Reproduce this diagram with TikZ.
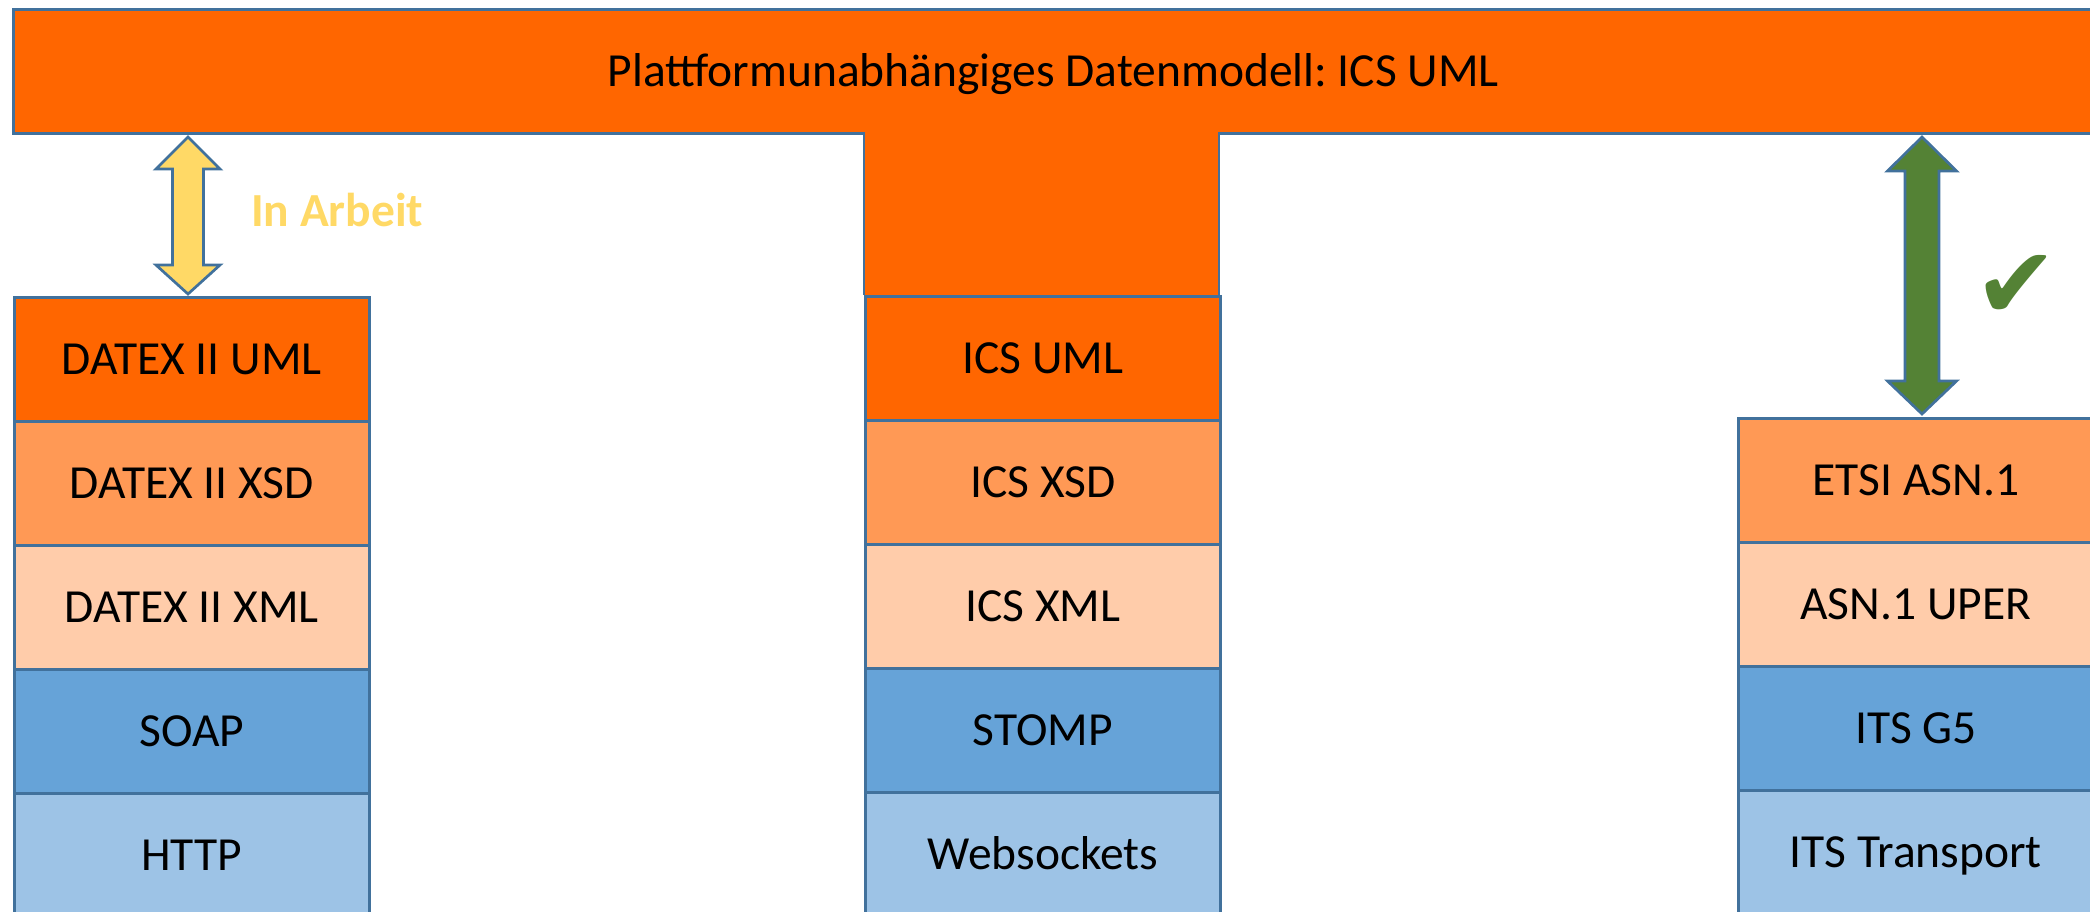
\documentclass[tikz,border=0pt]{standalone}
\usepackage{fontspec}
\setmainfont{Carlito}
\newfontfamily\symfont{DejaVu Sans}
\usetikzlibrary{calc}
\definecolor{outl}{HTML}{41719C}
\definecolor{orA}{HTML}{FF6600}
\definecolor{orB}{HTML}{FF9955}
\definecolor{orC}{HTML}{FFCCAA}
\definecolor{blA}{HTML}{66A3D8}
\definecolor{blB}{HTML}{9DC3E6}
\definecolor{gold}{HTML}{FFD966}
\definecolor{okgreen}{HTML}{548235}
\frenchspacing
\begin{document}
\begin{tikzpicture}[x=1pt,y=-1pt,
  layer/.style={draw=outl, line width=2.7pt, minimum width=355pt, minimum height=124pt,
    inner sep=0pt, anchor=north west, font=\fontsize{47.5}{50}\selectfont,
    text height=30pt, text depth=0pt},
  arrowshape/.style={draw=outl, line width=2.7pt, line join=miter}]
\useasboundingbox (0,0) rectangle (2090,912);
\clip (0,0) rectangle (2090,912);

% top bar
\node[layer, fill=orA, minimum width=2080pt] (top) at (12,8) {Plattformunabh\"angiges Datenmodell: ICS UML};

% middle stem
\fill[orA] (864,129) rectangle (1219,295);
\draw[outl, line width=2.7pt] (864,132) -- (864,295) (1219,132) -- (1219,295);

% left stack
\node[layer, fill=orA] (dU) at (13,296) {DATEX II UML};
\node[layer, fill=orB] (dX) at (13,420) {DATEX II XSD};
\node[layer, fill=orC] (dM) at (13,544) {DATEX II XML};
\node[layer, fill=blA] (dS) at (13,668) {SOAP};
\node[layer, fill=blB] (dH) at (13,792) {HTTP};

% middle stack
\node[layer, fill=orA] (iU) at (864,295) {ICS UML};
\node[layer, fill=orB] (iX) at (864,419) {ICS XSD};
\node[layer, fill=orC] (iM) at (864,543) {ICS XML};
\node[layer, fill=blA] (iS) at (864,667) {STOMP};
\node[layer, fill=blB] (iW) at (864,791) {Websockets};

% right stack
\node[layer, fill=orB] (eA) at (1737,417) {ETSI ASN.1};
\node[layer, fill=orC] (eU) at (1737,541) {ASN.1 UPER};
\node[layer, fill=blA] (eG) at (1737,665) {ITS G5};
\node[layer, fill=blB] (eT) at (1737,789) {ITS Transport};

% left double arrow (in progress)
\coordinate (lt) at (188,137);
\coordinate (lb) at (188,294);
\draw[arrowshape, fill=gold] (lt) -- ($(lt)+(32,32)$) -- ($(lt)+(15.5,32)$) -- ($(lb)+(15.5,-29)$)
  -- ($(lb)+(32,-29)$) -- (lb) -- ($(lb)+(-32,-29)$) -- ($(lb)+(-15.5,-29)$)
  -- ($(lt)+(-15.5,32)$) -- ($(lt)+(-32,32)$) -- cycle;
\node[anchor=base west, inner sep=0pt, text=gold, font=\fontsize{47.5}{50}\selectfont\bfseries] (ia) at (251,226) {In Arbeit};

% right double arrow (done)
\coordinate (rt) at (1922,137);
\coordinate (rb) at (1922,414);
\draw[arrowshape, fill=okgreen] (rt) -- ($(rt)+(34.5,34)$) -- ($(rt)+(17,34)$) -- ($(rb)+(17,-33)$)
  -- ($(rb)+(34.5,-33)$) -- (rb) -- ($(rb)+(-34.5,-33)$) -- ($(rb)+(-17,-33)$)
  -- ($(rt)+(-17,34)$) -- ($(rt)+(-34.5,34)$) -- cycle;
\node[inner sep=0pt, text=okgreen, font=\fontsize{100}{100}\symfont] (ok) at (2016,287) {✔};
\end{tikzpicture}
\end{document}
